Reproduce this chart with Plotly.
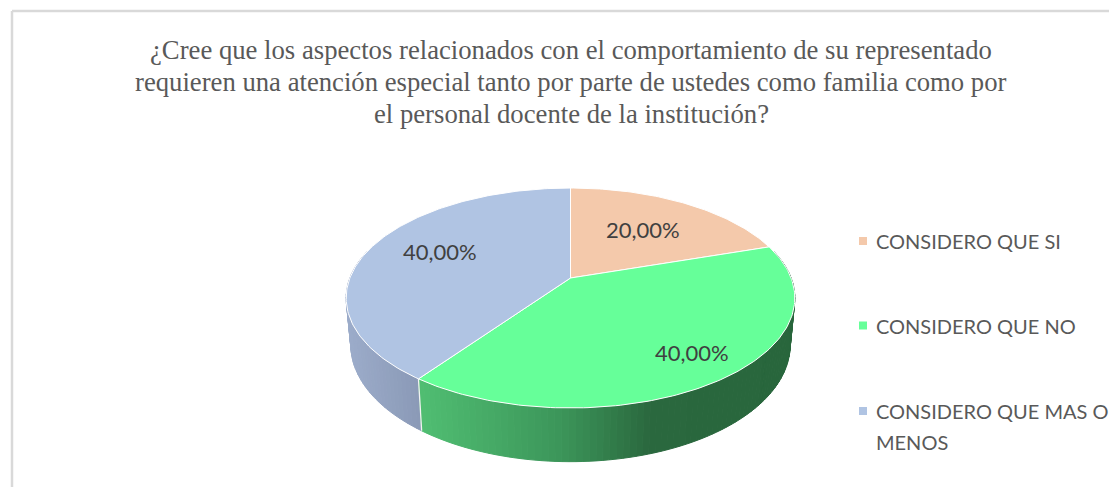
import math
import plotly.graph_objects as go

# ---- data ----
categories = ["CONSIDERO QUE SI", "CONSIDERO QUE NO", "CONSIDERO QUE MAS O MENOS"]
legend_lines = [["CONSIDERO QUE SI"], ["CONSIDERO QUE NO"], ["CONSIDERO QUE MAS O", "MENOS"]]
values = [20.0, 40.0, 40.0]
title_lines = [
    "¿Cree que los aspectos relacionados con el comportamiento de su representado",
    "requieren una atención especial tanto por parte de ustedes como familia como por",
    "el personal docente de la institución?",
]

# ---- style ----
W, H = 1117, 487
PAGE_MARGIN = 8            # the browser's default body margin
top_colors = ["#F4C9AB", "#66FF99", "#B0C4E3"]
TEXT = "#595959"
CX, CY = 570.5, 278.0      # projected pie centre
D, A, C = 220.6, -55.8, 0.1818  # perspective of the tilted disc
SX, SY, CY2 = 0.979, 1.06, 323.9  # lower rim relative to upper rim
label_pos = [(643.3, 229.3), (692, 352.7), (440, 251.7)]
legend_y = [241, 325.5, 411]
# (x position, colour) stops for the shaded sides
side_stops = {
    1: [(418, (80, 190, 114)), (560, (60, 150, 90)), (650, (42, 104, 62)), (800, (40, 102, 60))],
    2: [(345, (156, 172, 202)), (420, (138, 153, 182))],
}


def project(theta_deg):
    t = math.radians(theta_deg)
    u, v = math.sin(t), math.cos(t)
    w = 1 + C * v
    return CX + D * u / w, (A * v + CY) / w


def lower(p):
    return CX + SX * (p[0] - CX), CY2 + SY * (p[1] - CY)


def shade(stops, x):
    if x <= stops[0][0]:
        return stops[0][1]
    for (x0, c0), (x1, c1) in zip(stops, stops[1:]):
        if x <= x1:
            f = (x - x0) / (x1 - x0)
            return tuple(c0[i] + f * (c1[i] - c0[i]) for i in range(3))
    return stops[-1][1]


fig = go.Figure()

# slice angle limits, from the values
total = sum(values)
bounds = [0.0]
for v in values:
    bounds.append(bounds[-1] + 360.0 * v / total)

# shaded side wall (front half only)
for i in (2, 1):
    a0, a1 = bounds[i], bounds[i + 1]
    start, stop = (a0, 285.0) if i == 2 else (75.0, a1)
    n = int(abs(stop - start) / 1.5) + 1
    for k in range(n):
        t0 = start + (stop - start) * k / n
        t1 = start + (stop - start) * (k + 1) / n
        p0, p1 = project(t0), project(t1)
        q0, q1 = lower(p0), lower(p1)
        c = shade(side_stops[i], (p0[0] + p1[0]) / 2)
        col = "rgb(%d,%d,%d)" % tuple(round(z) for z in c)
        fig.add_trace(go.Scatter(
            x=[p0[0], p1[0], q1[0], q0[0], p0[0]],
            y=[p0[1], p1[1], q1[1], q0[1], p0[1]],
            mode="lines", fill="toself", fillcolor=col,
            line=dict(color=col, width=1), hoverinfo="skip", showlegend=False))

# white line on the wall between the two side faces
p = project(bounds[2])
q = lower(p)
fig.add_trace(go.Scatter(x=[p[0], q[0]], y=[p[1], q[1]], mode="lines",
                         line=dict(color="#F2F2F2", width=1.3),
                         hoverinfo="skip", showlegend=False))

# upper faces
for i, name in enumerate(categories):
    a0, a1 = bounds[i], bounds[i + 1]
    n = int(a1 - a0) + 1
    pts = [project(a0 + (a1 - a0) * k / n) for k in range(n + 1)]
    xs = [CX] + [p[0] for p in pts] + [CX]
    ys = [CY] + [p[1] for p in pts] + [CY]
    fig.add_trace(go.Scatter(x=xs, y=ys, mode="lines", fill="toself",
                             fillcolor=top_colors[i], name=name,
                             line=dict(color="#FFFFFF", width=1),
                             hoverinfo="name", showlegend=False))

# legend swatches
fig.add_trace(go.Scatter(x=[863] * 3, y=legend_y, mode="markers",
                         marker=dict(symbol="square", size=8, color=top_colors),
                         hoverinfo="skip", showlegend=False))

annotations = []
for (x, y), v in zip(label_pos, values):
    annotations.append(dict(x=x, y=y, xref="x", yref="y", showarrow=False,
                            text=f"{v:.2f}".replace(".", ",") + "%",
                            font=dict(family="Lato", size=22, color="#404040")))
for lines, y in zip(legend_lines, legend_y):
    for j, line in enumerate(lines):
        annotations.append(dict(x=874, y=y + j * 30.5, xref="x", yref="y", showarrow=False,
                                xanchor="left", text=line,
                                font=dict(family="Lato", size=20, color=TEXT)))
for j, line in enumerate(title_lines):
    annotations.append(dict(x=571, y=50 + j * 32, xref="x", yref="y", showarrow=False,
                            text=line,
                            font=dict(family="Liberation Serif", size=26.7, color=TEXT)))

border = dict(color="#D9D9D9", width=2.5)
fig.update_layout(
    width=W - PAGE_MARGIN, height=H - PAGE_MARGIN, margin=dict(l=0, r=0, t=0, b=0),
    paper_bgcolor="white", plot_bgcolor="white", showlegend=False,
    xaxis=dict(range=[PAGE_MARGIN, W], visible=False, fixedrange=True),
    yaxis=dict(range=[H, PAGE_MARGIN], visible=False, fixedrange=True),
    annotations=annotations,
    shapes=[
        dict(type="line", x0=12, x1=W, y0=11, y1=11, xref="x", yref="y", line=border),
        dict(type="line", x0=12, x1=12, y0=11, y1=H, xref="x", yref="y", line=border),
    ],
)
fig.write_html("out.html")
